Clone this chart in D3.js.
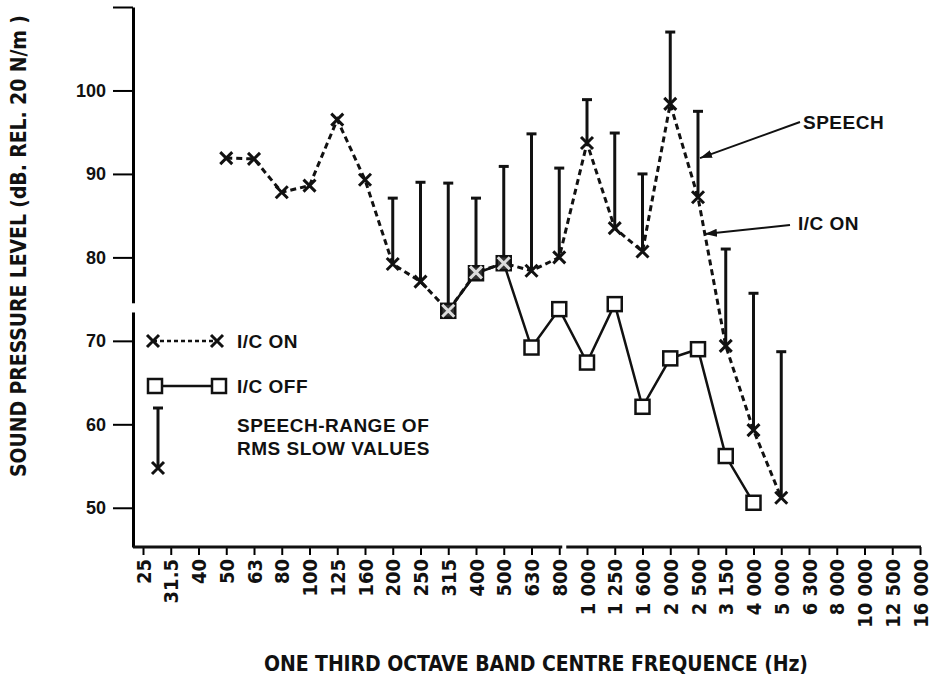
<!DOCTYPE html>
<html>
<head>
<meta charset="utf-8">
<script src="https://cdn.jsdelivr.net/npm/d3@7"></script>
<style>
  body { margin: 0; background: #fff; }
  text { fill: #111; }
</style>
</head>
<body>
<div id="grafiek"></div>
<script>
// One third octave bands (x axis labels)
const bands = ["25", "31.5", "40", "50", "63", "80", "100", "125", "160", "200", "250", "315", "400",
  "500", "630", "800", "1 000", "1 250", "1 600", "2 000", "2 500", "3 150", "4 000", "5 000",
  "6 300", "8 000", "10 000", "12 500", "16 000"];

// I/C ON (dashed line, crosses)
const icOnBands = ["50", "63", "80", "100", "125", "160", "200", "250", "315", "400", "500", "630", "800",
  "1 000", "1 250", "1 600", "2 000", "2 500", "3 150", "4 000", "5 000"];
const icOnValues = [91.9, 91.8, 87.8, 88.6, 96.5, 89.3, 79.2, 77.1, 73.6, 78.2, 79.3, 78.4, 80.0,
  93.7, 83.5, 80.7, 98.4, 87.2, 69.4, 59.3, 51.2];

// I/C OFF (solid line, squares)
const icOffBands = ["315", "400", "500", "630", "800", "1 000", "1 250", "1 600", "2 000", "2 500", "3 150", "4 000"];
const icOffValues = [73.6, 78.1, 79.3, 69.2, 73.8, 67.4, 74.4, 62.1, 67.9, 69.0, 56.2, 50.6];

// Speech range of RMS slow values: bar from the I/C ON value up to this maximum
const speechBands = ["200", "250", "315", "400", "500", "630", "800", "1 000", "1 250", "1 600",
  "2 000", "2 500", "3 150", "4 000", "5 000"];
const speechMax = [87.1, 89.0, 88.9, 87.1, 90.9, 94.8, 90.7, 98.9, 94.9, 90.0, 107.0, 97.5, 81.0, 75.7, 68.7];

const yTicks = [50, 60, 70, 80, 90, 100, 110];

const width = 934, height = 683;
const svg = d3.select('#grafiek').append('svg')
  .attr('width', width).attr('height', height)
  .style('font-family', '"DejaVu Sans", sans-serif');

const x = d3.scalePoint().domain(bands).range([143, 920]);
const y = d3.scaleLinear().domain([45.3, 110]).range([547, 7]);

const onData = icOnBands.map((b, i) => ({ band: b, value: icOnValues[i] }));
const offData = icOffBands.map((b, i) => ({ band: b, value: icOffValues[i] }));
const onLookup = new Map(onData.map(d => [d.band, d.value]));
const speechData = speechBands.map((b, i) => ({ band: b, low: onLookup.get(b), high: speechMax[i] }));

// Y axis
const yAxis = svg.append('g')
  .attr('transform', 'translate(133,0)')
  .call(d3.axisLeft(y).tickValues(yTicks).tickSize(20).tickSizeOuter(0).tickPadding(7)
    .tickFormat(d => d === 110 ? '' : d));
yAxis.select('.domain').attr('stroke-width', 3);
yAxis.selectAll('.tick line').attr('stroke-width', 2);
yAxis.selectAll('text')
  .style('font-size', '18px').style('font-weight', 'bold').attr('fill', '#111');

// X axis
const xAxis = svg.append('g')
  .attr('transform', `translate(0,${y(45.3)})`)
  .call(d3.axisBottom(x).tickSize(8).tickSizeOuter(0));
xAxis.select('.domain').remove();
xAxis.append('line')
  .attr('x1', 133).attr('x2', x('16 000') + 1)
  .attr('stroke', '#111').attr('stroke-width', 3);
xAxis.selectAll('.tick line').attr('stroke-width', 2);
xAxis.selectAll('text')
  .attr('transform', 'rotate(-90)')
  .attr('text-anchor', 'end')
  .attr('x', -12).attr('y', 0).attr('dy', '0.36em')
  .style('font-family', '"DejaVu Sans Condensed", "DejaVu Sans", sans-serif')
  .style('font-size', '20px').style('font-weight', 'bold').attr('fill', '#111');

// small breaks in the axis lines
svg.append('rect')
  .attr('x', 128).attr('width', 10)
  .attr('y', y(74.5)).attr('height', y(73.4) - y(74.5))
  .attr('fill', '#fff');
svg.append('rect')
  .attr('x', x('800') + 3).attr('width', 4)
  .attr('y', y(45.3) - 3).attr('height', 6)
  .attr('fill', '#fff');

// Axis titles
svg.append('text')
  .attr('transform', 'translate(26,246) rotate(-90)')
  .attr('text-anchor', 'middle')
  .attr('textLength', 462).attr('lengthAdjust', 'spacing')
  .style('font-family', '"DejaVu Sans Condensed", "DejaVu Sans", sans-serif')
  .style('font-size', '21px').style('font-weight', 'bold')
  .text('SOUND PRESSURE LEVEL (dB. REL. 20 N/m )');

svg.append('text')
  .attr('x', 536).attr('y', 671)
  .attr('text-anchor', 'middle')
  .attr('textLength', 544).attr('lengthAdjust', 'spacing')
  .style('font-family', '"DejaVu Sans Condensed", "DejaVu Sans", sans-serif')
  .style('font-size', '21px').style('font-weight', 'bold')
  .text('ONE THIRD OCTAVE BAND CENTRE FREQUENCE (Hz)');

// Speech range bars
const bars = svg.append('g');
bars.selectAll('line.bar')
  .data(speechData).enter().append('line')
  .attr('class', 'bar')
  .attr('x1', d => x(d.band)).attr('x2', d => x(d.band))
  .attr('y1', d => y(d.low)).attr('y2', d => y(d.high))
  .attr('stroke', '#111').attr('stroke-width', 3);
bars.selectAll('line.cap')
  .data(speechData).enter().append('line')
  .attr('class', 'cap')
  .attr('x1', d => x(d.band) - 5).attr('x2', d => x(d.band) + 5)
  .attr('y1', d => y(d.high)).attr('y2', d => y(d.high))
  .attr('stroke', '#111').attr('stroke-width', 3);

// I/C OFF line
const line = d3.line().x(d => x(d.band)).y(d => y(d.value));
svg.append('path')
  .datum(offData)
  .attr('d', line)
  .attr('fill', 'none').attr('stroke', '#111').attr('stroke-width', 2.5);

// I/C ON line
svg.append('path')
  .datum(onData)
  .attr('d', line)
  .attr('fill', 'none').attr('stroke', '#111').attr('stroke-width', 3)
  .attr('stroke-dasharray', '6,4');

const crossPath = 'M-6,-6L6,6M-6,6L6,-6';

// squares
svg.append('g').selectAll('rect')
  .data(offData).enter().append('rect')
  .attr('x', d => x(d.band) - 7).attr('y', d => y(d.value) - 7)
  .attr('width', 14).attr('height', 14)
  .attr('fill', d => onLookup.get(d.band) !== undefined && Math.abs(onLookup.get(d.band) - d.value) < 1.5 ? '#333' : '#fff')
  .attr('stroke', '#111').attr('stroke-width', 2.5);

// crosses
svg.append('g').selectAll('path')
  .data(onData).enter().append('path')
  .attr('transform', d => `translate(${x(d.band)},${y(d.value)})`)
  .attr('d', crossPath)
  .attr('stroke', d => offData.some(o => o.band === d.band && Math.abs(o.value - d.value) < 1.5) ? '#ddd' : '#111')
  .attr('stroke-width', 3).attr('fill', 'none');

// Legend
const legend = svg.append('g').style('font-family', '"Liberation Sans", Arial, sans-serif')
  .style('font-size', '19px').style('font-weight', 'bold').style('letter-spacing', '0.5px');

legend.append('line')
  .attr('x1', 153).attr('x2', 217).attr('y1', 341).attr('y2', 341)
  .attr('stroke', '#111').attr('stroke-width', 2.5).attr('stroke-dasharray', '4,3');
[153, 217].forEach(cx => legend.append('path')
  .attr('transform', `translate(${cx},341)`).attr('d', crossPath)
  .attr('stroke', '#111').attr('stroke-width', 3));
legend.append('text').attr('x', 237).attr('y', 341).attr('dy', '0.36em').text('I/C ON');

legend.append('line')
  .attr('x1', 155).attr('x2', 219).attr('y1', 386).attr('y2', 386)
  .attr('stroke', '#111').attr('stroke-width', 2.5);
[155, 219].forEach(cx => legend.append('rect')
  .attr('x', cx - 7).attr('y', 379).attr('width', 14).attr('height', 14)
  .attr('fill', '#fff').attr('stroke', '#111').attr('stroke-width', 2.5));
legend.append('text').attr('x', 237).attr('y', 386).attr('dy', '0.36em').text('I/C OFF');

legend.append('line')
  .attr('x1', 158).attr('x2', 158).attr('y1', 408).attr('y2', 468)
  .attr('stroke', '#111').attr('stroke-width', 3);
legend.append('line')
  .attr('x1', 153).attr('x2', 163).attr('y1', 408).attr('y2', 408)
  .attr('stroke', '#111').attr('stroke-width', 3);
legend.append('path')
  .attr('transform', 'translate(158,468)').attr('d', crossPath)
  .attr('stroke', '#111').attr('stroke-width', 3);
legend.append('text').attr('x', 237).attr('y', 425).attr('dy', '0.36em').text('SPEECH-RANGE OF');
legend.append('text').attr('x', 237).attr('y', 448).attr('dy', '0.36em').text('RMS SLOW VALUES');

// Annotations with arrows
svg.append('defs').append('marker')
  .attr('id', 'arrow')
  .attr('viewBox', '0 0 12 8').attr('refX', 12).attr('refY', 4)
  .attr('markerWidth', 12).attr('markerHeight', 8).attr('markerUnits', 'userSpaceOnUse')
  .attr('orient', 'auto')
  .append('path').attr('d', 'M0,0L12,4L0,8Z').attr('fill', '#111');

svg.append('line')
  .attr('x1', 800).attr('y1', 122)
  .attr('x2', x('2 500') + 2).attr('y2', y(91.9))
  .attr('stroke', '#111').attr('stroke-width', 2).attr('marker-end', 'url(#arrow)');
svg.append('line')
  .attr('x1', 790).attr('y1', 225)
  .attr('x2', x('2 500') + 7).attr('y2', y(82.8))
  .attr('stroke', '#111').attr('stroke-width', 2).attr('marker-end', 'url(#arrow)');

const notes = svg.append('g').style('font-family', '"Liberation Sans", Arial, sans-serif')
  .style('font-size', '19px').style('font-weight', 'bold').style('letter-spacing', '0.5px');
notes.append('text').attr('x', 803).attr('y', 122).attr('dy', '0.36em').text('SPEECH');
notes.append('text').attr('x', 798).attr('y', 223).attr('dy', '0.36em').text('I/C ON');
</script>
</body>
</html>
